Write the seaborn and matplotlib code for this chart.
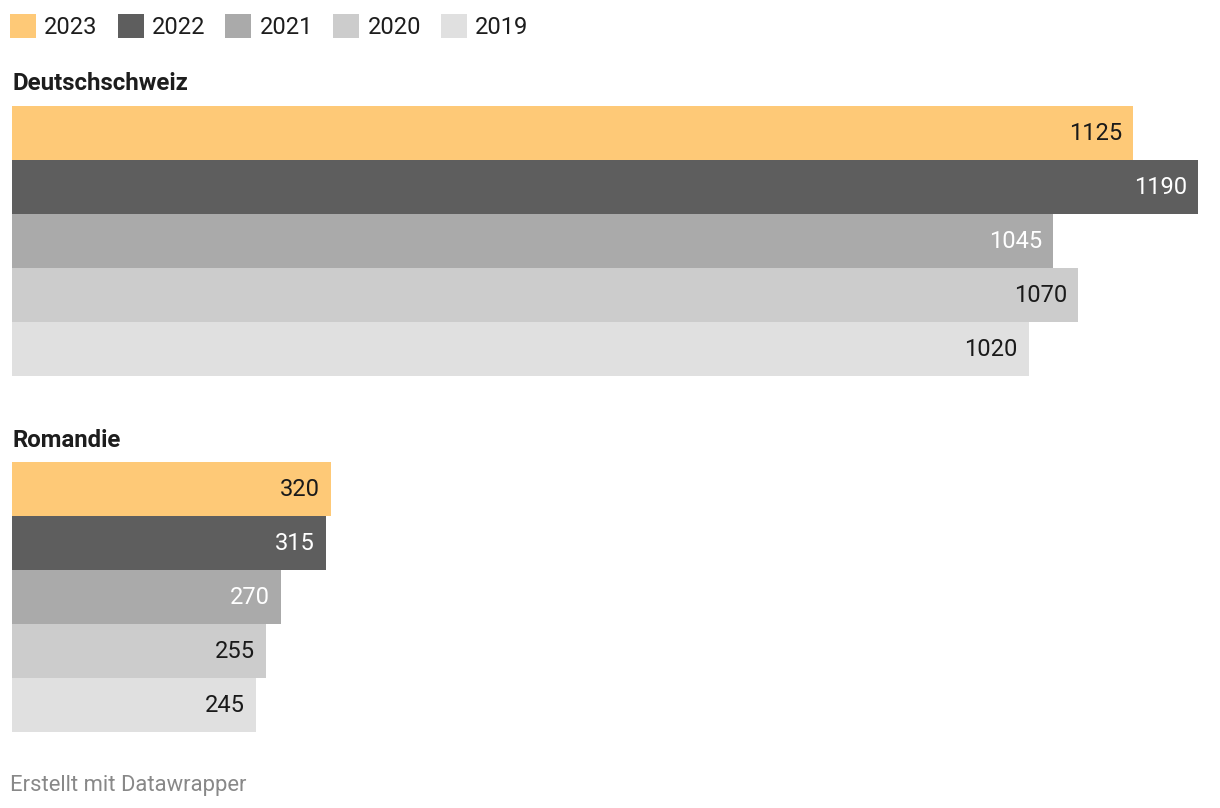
import pandas as pd
import matplotlib.pyplot as plt
from matplotlib.patches import Patch
import seaborn as sns

years = ['2023', '2022', '2021', '2020', '2019']
colors = ['#fec977', '#5e5e5e', '#aaaaaa', '#cccccc', '#e0e0e0']
label_colors = ['#1a1a1a', '#ffffff', '#ffffff', '#1a1a1a', '#1a1a1a']
regions = ['Deutschschweiz', 'Romandie']
deutschschweiz = [1125, 1190, 1045, 1070, 1020]
romandie = [320, 315, 270, 255, 245]

sns.set_theme(style='white')
plt.rcParams['font.family'] = ['Roboto', 'DejaVu Sans']

W, H = 1220, 808
fig = plt.figure(figsize=(W / 100, H / 100), dpi=100)

xmax = 1190
panels = [(regions[0], deutschschweiz, 106), (regions[1], romandie, 462)]
for name, vals, top in panels:
    df = pd.DataFrame({'year': years, 'value': vals})
    ax = fig.add_axes([12 / W, 1 - (top + 270) / H, (1198 - 12) / W, 270 / H])
    sns.barplot(data=df, x='value', y='year', hue='year', order=years, hue_order=years,
                palette=colors, width=1.0, orient='h', legend=False, ax=ax, saturation=1,
                linewidth=0, edgecolor='none')
    ax.set_xlim(0, xmax)
    ax.set_ylim(4.5, -0.5)
    ax.axis('off')
    for i, v in enumerate(vals):
        ax.annotate(str(v), (v, i), xytext=(-8, -0.7), textcoords='offset points',
                    ha='right', va='center', fontsize=17, color=label_colors[i])
    fig.text(12 / W, 1 - (top - 22) / H, name, fontsize=17.3, fontweight='bold',
             color='#1d1d1d', ha='left', va='center')

handles = [Patch(facecolor=c, edgecolor='none') for c in colors]
fig.legend(handles, years, loc='upper left', bbox_to_anchor=(10 / W, 1 - 14 / H),
           ncol=5, frameon=False, fontsize=17, handlelength=1.1, handleheight=1.2,
           handletextpad=0.35, columnspacing=0.85, borderaxespad=0, borderpad=0,
           labelcolor='#1d1d1d')

fig.text(10 / W, 1 - 786 / H, 'Erstellt mit Datawrapper', fontsize=15.8, color='#888888',
         ha='left', va='center')

fig.savefig('out.png', dpi=100)
